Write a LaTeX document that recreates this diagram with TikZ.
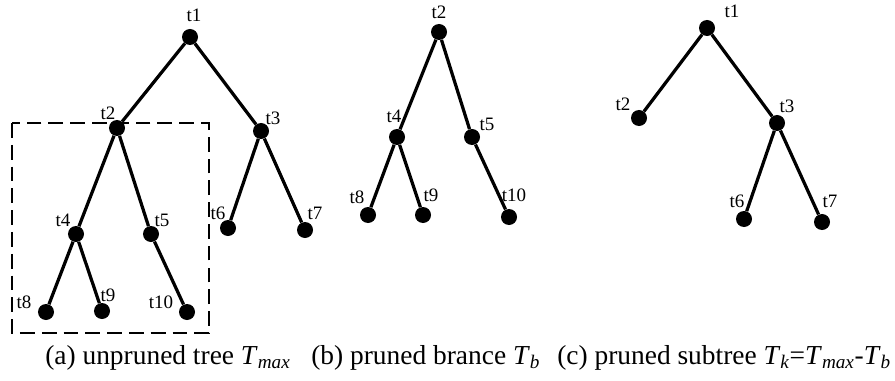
\documentclass[tikz,border=0pt]{standalone}
\usepackage{fontspec}
\setmainfont{Liberation Serif}
\usetikzlibrary{positioning}
\newcommand{\sbit}[1]{\textsubscript{\itshape #1}}
\tikzset{
  vtx/.style={circle, fill=black, inner sep=0pt, minimum size=0.4cm},
  lbl/.style={inner sep=0pt, font=\fontsize{13.5}{14}\selectfont},
  limb/.style={line width=2.3pt},
  prunebox/.style={draw=black, line width=1.2pt, dash pattern=on 10.5pt off 5pt},
  captxt/.style={anchor=base west, inner sep=0pt, font=\fontsize{19.5}{21}\selectfont}
}
\begin{document}
\begin{tikzpicture}[x=0.025cm, y=-0.025cm]
\useasboundingbox (0,0) rectangle (895,381);
% (a) unpruned tree
\node[vtx] (a1) at (190,37) {};
\node[vtx] (a2) at (117,128) {};
\node[vtx] (a3) at (261,131) {};
\node[vtx] (a4) at (76,234) {};
\node[vtx] (a5) at (151,234) {};
\node[vtx] (a6) at (228,228) {};
\node[vtx] (a7) at (305,230) {};
\node[vtx] (a8) at (46,312) {};
\node[vtx] (a9) at (102,311) {};
\node[vtx] (a10) at (187,312) {};
\draw[limb] (a1) -- (a2) (a1) -- (a3) (a2) -- (a4) (a2) -- (a5) (a3) -- (a6) (a3) -- (a7)
  (a4) -- (a8) (a4) -- (a9) (a5) -- (a10);
\node[lbl] (a1l) at (194,15) {t1};
\node[lbl] (a2l) at (108,113) {t2};
\node[lbl] (a3l) at (273,118) {t3};
\node[lbl] (a4l) at (63,220) {t4};
\node[lbl] (a5l) at (162,220) {t5};
\node[lbl] (a6l) at (218,213) {t6};
\node[lbl] (a7l) at (315,213) {t7};
\node[lbl] (a8l) at (24,302) {t8};
\node[lbl] (a9l) at (108,295) {t9};
\node[lbl] (a10l) at (161,302) {t10};
\draw[prunebox] (12,123) rectangle (209,333);
% (b) pruned branch
\node[vtx] (b2) at (439,32) {};
\node[vtx] (b4) at (397,137) {};
\node[vtx] (b5) at (472,137) {};
\node[vtx] (b8) at (368,215) {};
\node[vtx] (b9) at (423,215) {};
\node[vtx] (b10) at (509,217) {};
\draw[limb] (b2) -- (b4) (b2) -- (b5) (b4) -- (b8) (b4) -- (b9) (b5) -- (b10);
\node[lbl] (b2l) at (439,12) {t2};
\node[lbl] (b4l) at (394,116) {t4};
\node[lbl] (b5l) at (487,124) {t5};
\node[lbl] (b8l) at (357,197) {t8};
\node[lbl] (b9l) at (431,195) {t9};
\node[lbl] (b10l) at (514,195) {t10};
% (c) pruned subtree
\node[vtx] (c1) at (707,28) {};
\node[vtx] (c2) at (639,118) {};
\node[vtx] (c3) at (777,123) {};
\node[vtx] (c6) at (744,219) {};
\node[vtx] (c7) at (822,222) {};
\draw[limb] (c1) -- (c2) (c1) -- (c3) (c3) -- (c6) (c3) -- (c7);
\node[lbl] (c1l) at (732,11) {t1};
\node[lbl] (c2l) at (623,104) {t2};
\node[lbl] (c3l) at (787,106) {t3};
\node[lbl] (c6l) at (737,201) {t6};
\node[lbl] (c7l) at (830,201) {t7};
% captions
\node[captxt] (capa) at (45,364) {(a) unpruned tree \textit{T}\sbit{max}};
\node[captxt] (capb) at (311,364) {(b) pruned brance \textit{T}\sbit{b}};
\node[captxt] (capc) at (557,364) {(c) pruned subtree \textit{T}\sbit{k}=\textit{T}\sbit{max}-\textit{T}\sbit{b}};
\end{tikzpicture}
\end{document}
